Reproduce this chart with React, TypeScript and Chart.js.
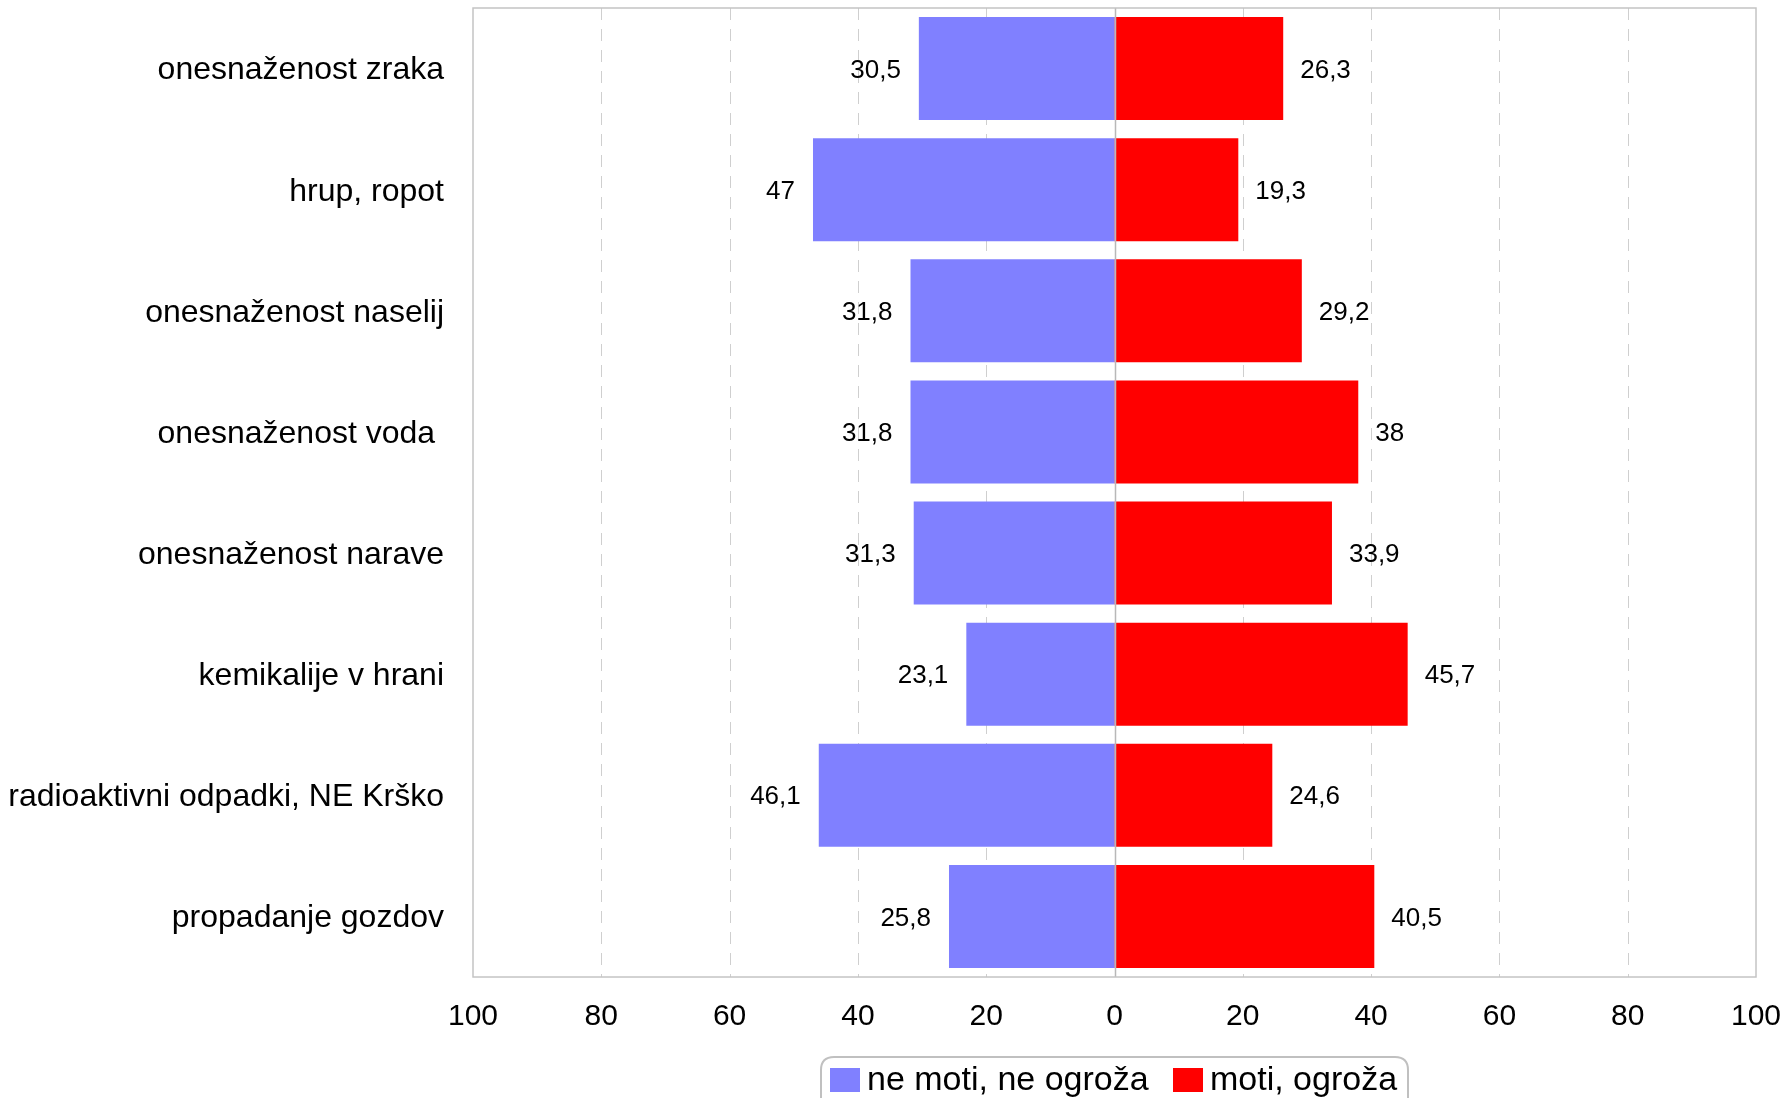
import React, { useEffect, useRef } from "react";
import { Chart, registerables } from "chart.js";

Chart.register(...registerables);

const categories = [
  "onesnaženost zraka",
  "hrup, ropot",
  "onesnaženost naselij",
  "onesnaženost voda ",
  "onesnaženost narave",
  "kemikalije v hrani",
  "radioaktivni odpadki, NE Krško",
  "propadanje gozdov",
];
const notBothering = [30.5, 47, 31.8, 31.8, 31.3, 23.1, 46.1, 25.8];
const bothering = [26.3, 19.3, 29.2, 38, 33.9, 45.7, 24.6, 40.5];
const seriesNames = ["ne moti, ne ogroža", "moti, ogroža"];
const seriesColors = ["#8080FF", "#FF0000"];

const FONT = "'Liberation Sans', Arial, sans-serif";

const fmt = (v: number) => String(v).replace(".", ",");

const framePlugin = {
  id: "frame",
  beforeDatasetsDraw(chart: any) {
    const { ctx, chartArea, scales } = chart;
    const x = scales.x;
    ctx.save();
    ctx.strokeStyle = "#cfcfcf";
    ctx.lineWidth = 1;
    ctx.setLineDash([12, 9]);
    for (let v = -80; v <= 80; v += 20) {
      if (v === 0) continue;
      const px = Math.round(x.getPixelForValue(v)) + 0.5;
      ctx.beginPath();
      ctx.moveTo(px, chartArea.top);
      ctx.lineTo(px, chartArea.bottom);
      ctx.stroke();
    }
    ctx.restore();
  },
  afterDatasetsDraw(chart: any) {
    const { ctx, chartArea, scales } = chart;
    const x = scales.x;
    ctx.save();
    // zero line
    ctx.strokeStyle = "#b8b8b8";
    ctx.lineWidth = 1.5;
    const zx = Math.round(x.getPixelForValue(0)) + 0.5;
    ctx.beginPath();
    ctx.moveTo(zx, chartArea.top);
    ctx.lineTo(zx, chartArea.bottom);
    ctx.stroke();
    // border
    ctx.strokeStyle = "#c4c4c4";
    ctx.lineWidth = 1.5;
    ctx.strokeRect(
      chartArea.left,
      chartArea.top,
      chartArea.right - chartArea.left,
      chartArea.bottom - chartArea.top
    );
    // data labels
    ctx.fillStyle = "#000";
    ctx.font = `26px ${FONT}`;
    ctx.textBaseline = "middle";
    chart.data.datasets.forEach((ds: any, di: number) => {
      const meta = chart.getDatasetMeta(di);
      meta.data.forEach((bar: any, i: number) => {
        const raw = di === 0 ? notBothering[i] : bothering[i];
        const label = fmt(raw);
        if (di === 0) {
          ctx.textAlign = "right";
          ctx.fillText(label, bar.x - 18, bar.y + 2);
        } else {
          ctx.textAlign = "left";
          ctx.fillText(label, bar.x + 17, bar.y + 2);
        }
      });
    });
    ctx.restore();
  },
  afterDraw(chart: any) {
    const { ctx } = chart;
    ctx.save();
    // legend box
    const bx = 821, by = 1057, bw = 587, bh = 60, r = 13;
    ctx.strokeStyle = "#c0c0c0";
    ctx.lineWidth = 2;
    ctx.beginPath();
    ctx.moveTo(bx + r, by);
    ctx.lineTo(bx + bw - r, by);
    ctx.quadraticCurveTo(bx + bw, by, bx + bw, by + r);
    ctx.lineTo(bx + bw, by + bh - r);
    ctx.quadraticCurveTo(bx + bw, by + bh, bx + bw - r, by + bh);
    ctx.lineTo(bx + r, by + bh);
    ctx.quadraticCurveTo(bx, by + bh, bx, by + bh - r);
    ctx.lineTo(bx, by + r);
    ctx.quadraticCurveTo(bx, by, bx + r, by);
    ctx.stroke();
    const items = [
      { sx: 830, tx: 867 },
      { sx: 1173, tx: 1210 },
    ];
    ctx.font = `34px ${FONT}`;
    ctx.textBaseline = "middle";
    ctx.textAlign = "left";
    items.forEach((it, i) => {
      ctx.fillStyle = seriesColors[i];
      ctx.fillRect(it.sx, 1068, 30, 24);
      ctx.fillStyle = "#000";
      ctx.fillText(seriesNames[i], it.tx, 1081);
    });
    ctx.restore();
  },
};

export default function App() {
  const ref = useRef<HTMLCanvasElement | null>(null);
  useEffect(() => {
    if (!ref.current) return;
    const chart = new Chart(ref.current, {
      type: "bar",
      data: {
        labels: categories,
        datasets: [
          {
            label: seriesNames[0],
            data: notBothering.map((v) => -v),
            backgroundColor: seriesColors[0],
            barPercentage: 0.85,
            categoryPercentage: 1,
          },
          {
            label: seriesNames[1],
            data: bothering,
            backgroundColor: seriesColors[1],
            barPercentage: 0.85,
            categoryPercentage: 1,
          },
        ],
      },
      options: {
        indexAxis: "y",
        animation: false,
        responsive: false,
        maintainAspectRatio: false,
        layout: { padding: { left: 0, right: 32, top: 8, bottom: 0 } },
        plugins: {
          legend: { display: false },
          tooltip: { enabled: false },
        },
        scales: {
          x: {
            stacked: true,
            min: -100,
            max: 100,
            grid: { display: false, drawTicks: false },
            border: { display: false },
            ticks: {
              stepSize: 20,
              padding: 22,
              color: "#000",
              font: { size: 30, family: FONT },
              maxRotation: 0,
              autoSkip: false,
              callback: (v: any) => String(Math.abs(Number(v))),
            },
            afterFit: (s: any) => {
              s.height = 121;
              s.paddingLeft = 0;
              s.paddingRight = 0;
            },
          },
          y: {
            stacked: true,
            grid: { display: false, drawTicks: false },
            border: { display: false },
            ticks: {
              padding: 29,
              labelOffset: 2,
              color: "#000",
              font: { size: 32, family: FONT },
              autoSkip: false,
            },
            afterFit: (s: any) => {
              s.width = 473;
              s.paddingTop = 0;
              s.paddingBottom = 0;
            },
          },
        },
      },
      plugins: [framePlugin],
    });
    return () => chart.destroy();
  }, []);
  return (
    <div style={{ position: "fixed", left: 0, top: 0, width: 1788, height: 1098, background: "#fff" }}>
      <canvas ref={ref} width={1788} height={1098} style={{ display: "block" }} />
    </div>
  );
}
